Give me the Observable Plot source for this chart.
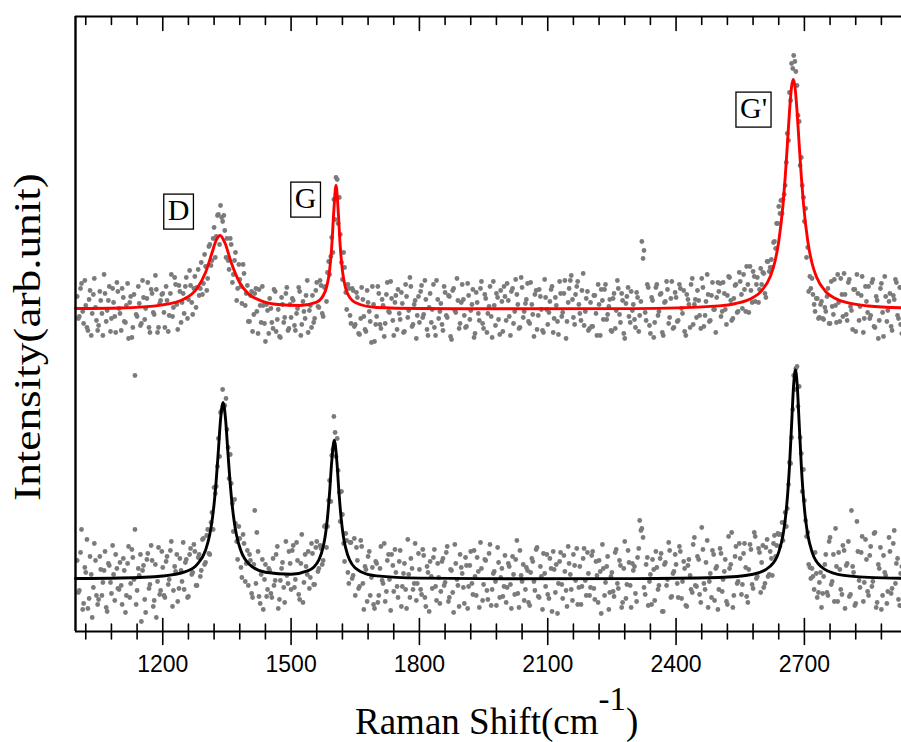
<!DOCTYPE html>
<html>
<head>
<meta charset="utf-8">
<script src="https://cdn.jsdelivr.net/npm/d3@7"></script>
<script src="https://cdn.jsdelivr.net/npm/@observablehq/plot@0.6"></script>
<style>
  body { margin: 0; background: #fff; }
  #wrap { position: relative; width: 901px; height: 742px; overflow: hidden; background: #fff; }
  #xtitle { position: absolute; left: 355px; top: 703px; font-family: "Liberation Serif", serif; font-size: 37px; line-height: 37px; white-space: nowrap; color: #000; }
  #xtitle sup { font-size: 33px; vertical-align: baseline; position: relative; top: -24px; }
  #ytitle { position: absolute; left: 27px; top: 337px; transform: translate(-50%, -50%) rotate(-90deg) scaleX(1.19); font-family: "Liberation Serif", serif; font-size: 38px; line-height: 38px; white-space: nowrap; color: #000; }
</style>
</head>
<body>
<div id="wrap">
  <div id="ytitle">Intensity(arb.unit)</div>
  <div id="xtitle">Raman Shift(cm<sup>-1</sup>)</div>
</div>
<script>
// ---- axis setup ----
const xDomain = [996, 2927];
const yDomain = [0, 615];
const majorTicks = [1200, 1500, 1800, 2100, 2400, 2700];
const minorTicks = [1020, 1080, 1140, 1260, 1320, 1380, 1440, 1560, 1620, 1680, 1740, 1860, 1920, 1980, 2040, 2160, 2220, 2280, 2340, 2460, 2520, 2580, 2640, 2760, 2820, 2880];

// ---- measured spectra (scatter) ----
const sampleX = [
1000,1005,1010,1015,1020,1025,1030,1035,1040,1045,1050,1055,1060,1065,1070,1075,1080,1085,1090,1095,
1100,1105,1110,1115,1120,1125,1130,1135,1140,1145,1150,1155,1160,1165,1170,1175,1180,1185,1190,1195,
1200,1205,1210,1215,1220,1225,1230,1235,1240,1245,1250,1255,1260,1265,1270,1275,1280,1285,1290,1295,
1300,1305,1310,1315,1320,1325,1330,1335,1340,1345,1350,1355,1360,1365,1370,1375,1380,1385,1390,1395,
1400,1405,1410,1415,1420,1425,1430,1435,1440,1445,1450,1455,1460,1465,1470,1475,1480,1485,1490,1495,
1500,1505,1510,1515,1520,1525,1530,1535,1540,1545,1550,1555,1560,1565,1570,1575,1580,1585,1590,1595,
1600,1605,1610,1615,1620,1625,1630,1635,1640,1645,1650,1655,1660,1665,1670,1675,1680,1685,1690,1695,
1700,1705,1710,1715,1720,1725,1730,1735,1740,1745,1750,1755,1760,1765,1770,1775,1780,1785,1790,1795,
1800,1805,1810,1815,1820,1825,1830,1835,1840,1845,1850,1855,1860,1865,1870,1875,1880,1885,1890,1895,
1900,1905,1910,1915,1920,1925,1930,1935,1940,1945,1950,1955,1960,1965,1970,1975,1980,1985,1990,1995,
2000,2005,2010,2015,2020,2025,2030,2035,2040,2045,2050,2055,2060,2065,2070,2075,2080,2085,2090,2095,
2100,2105,2110,2115,2120,2125,2130,2135,2140,2145,2150,2155,2160,2165,2170,2175,2180,2185,2190,2195,
2200,2205,2210,2215,2220,2225,2230,2235,2240,2245,2250,2255,2260,2265,2270,2275,2280,2285,2290,2295,
2300,2305,2310,2315,2320,2325,2330,2335,2340,2345,2350,2355,2360,2365,2370,2375,2380,2385,2390,2395,
2400,2405,2410,2415,2420,2425,2430,2435,2440,2445,2450,2455,2460,2465,2470,2475,2480,2485,2490,2495,
2500,2505,2510,2515,2520,2525,2530,2535,2540,2545,2550,2555,2560,2565,2570,2575,2580,2585,2590,2595,
2600,2605,2610,2615,2620,2625,2630,2635,2640,2645,2650,2655,2660,2665,2670,2675,2680,2685,2690,2695,
2700,2705,2710,2715,2720,2725,2730,2735,2740,2745,2750,2755,2760,2765,2770,2775,2780,2785,2790,2795,
2800,2805,2810,2815,2820,2825,2830,2835,2840,2845,2850,2855,2860,2865,2870,2875,2880,2885,2890,2895,
2900,2905,2910,2915,2920,2925];

// upper (red-fitted) spectrum, two readings per position
const upperData = [
335,315,348,308,326,301,341,318,353,311, 306,331,296,338,321,345,313,329,299,340,
318,343,310,326,293,335,304,256,315,328, 308,334,323,349,299,338,317,342,304,331,
338,304,331,316,357,324,347,302,340,329, 318,354,332,346,317,355,344,336,369,348,
365,353,387,371,404,395,417,426,410,401, 393,362,387,357,379,343,352,328,358,338,
310,336,300,338,320,342,309,326,290,321, 333,309,342,300,322,294,327,314,344,303,
314,331,301,323,340,307,320,336,299,326, 336,313,349,324,346,315,345,359,357,394,
432,454,408,397,352,364,322,343,308,341, 307,334,297,344,315,300,329,310,345,290,
315,338,303,326,308,349,319,333,296,336, 342,312,328,300,335,321,345,307,331,316,
309,346,317,332,296,338,322,304,351,313, 328,301,339,314,335,292,343,319,331,308,
347,316,305,336,321,342,298,329,311,350, 303,333,318,345,294,326,338,312,341,300,
335,348,315,340,308,352,327,304,344,320, 332,310,349,317,337,302,342,322,299,334,
307,330,345,313,326,297,338,319,351,310, 343,356,314,337,350,318,341,306,333,301,
329,305,336,296,327,342,312,347,317,332, 300,338,321,343,309,331,293,335,315,340,
327,304,334,316,390,381,311,344,298,331, 309,347,320,338,296,330,342,314,350,304,
334,311,343,318,300,337,327,347,307,332, 341,316,353,305,330,337,311,349,322,334,
340,315,349,322,336,354,311,333,347,320, 350,323,342,365,319,341,360,330,354,342,
347,358,334,370,364,364,390,408,425,431, 432,446,498,539,568,576,560,516,466,446,
410,374,340,343,337,320,333,314,330,312, 320,343,308,325,352,309,329,353,315,337,
311,352,321,342,300,338,325,355,313,330, 345,316,352,304,331,311,348,295,335,321,
338,301,332,349,313,307];

const upperData2 = [
313,343,320,351,304,332,296,337,324,301, 340,318,357,310,331,300,343,315,349,323,
301,334,309,348,329,294,337,317,345,306, 351,312,333,304,342,319,356,299,328,337,
319,345,300,338,315,354,327,346,309,338, 345,313,361,329,343,324,362,343,337,377,
341,385,366,393,374,416,387,414,416,374, 371,393,349,371,331,367,345,367,326,346,
310,340,317,343,298,326,345,308,327,298, 323,303,340,312,295,334,309,338,301,327,
333,306,318,344,296,330,313,351,321,304, 309,341,325,351,318,344,330,370,375,379,
412,452,434,369,379,339,347,316,343,305, 339,298,313,332,302,341,320,289,327,307,
345,307,332,295,337,320,350,311,329,302, 318,339,299,347,314,354,305,327,293,335,
340,314,351,302,324,309,347,296,332,320, 307,345,316,336,295,341,321,353,303,329,
332,304,348,312,327,294,339,318,343,308, 337,299,325,315,350,306,334,297,330,345,
311,331,296,343,320,337,303,354,314,328, 348,308,327,295,341,316,335,301,352,322,
319,342,299,334,310,350,315,338,293,329, 351,332,307,345,327,311,358,320,340,303,
305,336,318,347,296,331,342,312,325,301, 333,303,351,317,338,298,328,344,309,321,
312,339,300,330,373,319,347,306,334,294, 344,316,337,299,329,350,308,333,303,339,
310,347,323,341,296,332,304,353,327,314, 331,303,344,316,357,310,336,322,299,349,
348,320,338,307,355,331,313,346,319,359, 337,357,320,347,365,329,355,347,329,363,
359,338,370,360,372,389,383,408,418,418, 437,469,491,531,563,570,546,510,474,434,
423,384,355,353,327,333,313,327,313,324, 335,308,350,317,326,357,310,337,358,317,
349,325,302,342,357,311,336,299,345,319, 313,349,305,335,293,343,319,355,310,330,
305,336,352,316,344,298];

// lower (black-fitted) spectrum, two readings per position
const lowerData = [
71,41,102,28,59,23,75,14,88,36, 32,62,49,80,20,66,38,57,77,43,
69,27,61,36,85,48,74,102,41,56, 10,66,19,78,47,71,31,14,84,41,
64,34,75,52,90,41,60,30,73,50, 42,72,35,83,59,80,46,77,61,93,
69,102,77,119,144,145,193,219,242,226, 202,153,148,100,108,72,93,54,88,68,
46,71,34,121,99,35,57,22,67,42, 61,34,46,77,23,51,69,29,56,80,
42,86,52,71,32,97,49,65,80,54, 78,47,90,63,83,71,106,105,151,176,
215,175,161,110,117,70,91,48,89,56, 36,71,45,85,22,62,75,36,64,23,
68,36,85,48,30,71,52,77,40,59, 34,81,45,68,23,57,73,42,88,48,
62,37,76,25,59,70,43,82,31,54, 40,73,49,85,34,61,19,68,46,77,
58,28,66,45,80,37,55,74,24,63, 47,71,32,87,42,60,26,69,54,35,
76,44,65,23,57,72,38,81,50,31, 64,29,59,70,41,84,34,55,78,45,
37,73,20,62,67,48,79,33,60,25, 68,42,77,51,27,65,45,83,36,58,
44,80,32,56,71,18,63,49,75,39, 59,35,82,43,66,29,90,47,69,24,
61,38,74,111,103,44,67,26,57,72, 31,64,46,78,20,69,52,81,35,60,
67,34,80,50,63,25,72,42,87,46, 75,37,104,48,69,24,58,81,31,65,
42,78,52,72,27,63,99,36,85,50, 73,47,88,35,62,82,43,95,55,79,
69,44,84,55,80,56,96,86,97,97, 91,119,123,169,194,256,263,225,194,140,
131,95,67,53,55,79,34,49,24,55, 77,36,94,50,30,65,79,42,86,23,
68,35,121,59,28,80,44,95,49,72, 36,85,50,99,29,63,22,76,56,40,
80,43,101,68,32,58];

const lowerData2 = [
39,79,22,64,92,33,57,44,71,27, 75,36,61,24,68,49,86,31,63,42,
46,73,19,68,34,82,52,27,63,77, 61,32,72,43,86,25,67,50,37,80,
36,70,47,81,25,65,77,43,61,89, 69,34,77,57,87,46,74,55,92,67,
96,78,109,102,138,165,175,221,225,233, 184,177,128,132,90,105,64,97,50,81,
77,38,67,48,80,28,72,52,35,63, 38,73,51,85,32,63,44,90,48,68,
81,44,89,37,68,29,77,57,43,88, 47,84,60,86,67,105,84,131,130,182,
199,193,139,140,88,98,59,89,53,93, 84,43,91,48,65,30,80,54,27,70,
29,63,51,88,40,77,21,66,82,45, 70,25,58,42,92,34,63,48,31,78,
42,82,34,65,20,55,74,45,68,28, 70,46,79,30,62,39,87,52,25,64,
44,74,23,66,48,81,36,60,89,31, 72,41,78,26,58,50,84,34,63,45,
29,68,47,75,37,91,24,56,67,42, 61,26,73,50,82,35,65,22,58,77,
33,63,80,39,18,70,47,76,41,85, 57,31,66,83,44,27,73,51,79,36,
76,43,70,29,60,87,36,65,22,55, 40,79,48,71,24,63,33,81,46,68,
65,30,83,101,94,37,74,50,27,62, 80,42,73,20,67,46,89,34,58,77,
48,85,33,70,26,66,56,39,94,45, 72,29,82,42,91,50,34,77,63,22,
83,40,60,30,95,67,24,75,48,88, 37,78,64,29,87,47,99,53,83,39,
86,48,92,57,73,88,75,98,85,109, 109,105,147,168,222,242,265,245,178,162,
111,99,64,63,42,58,39,59,38,67, 39,90,47,77,103,30,62,37,81,66,
90,37,65,26,110,51,79,30,92,40, 76,45,98,24,67,84,36,59,28,94,
38,88,48,73,26,65];

// ---- fitted curves ----
const upperFitX = [996,1100,1200,1250,1280,1300,1315,1325,1334,1345,1360,1380,1400,1430,1470,1520,1560,1580,1585,1590,1595,1600,1605,1610,1615,1620,1625,1630,1650,1700,1800,2000,2300,2500,2540,2580,2600,2620,2630,2640,2650,2655,2660,2665,2670,2674,2678,2683,2688,2693,2698,2708,2718,2728,2750,2770,2800,2850,2927];
const upperFitY = [323,323.5,326.6,332.5,343,359,378.5,391.3,396,389,369,348.7,337.8,330.7,327,326,329.4,340.4,348,361.2,384.8,421.5,446.3,421.5,384.6,361,347.8,340,329,324,323,322.7,322.9,325.6,328,334,340.7,354.8,368,390,427,453.7,485.7,519,544.6,552,544.6,519,485.7,453.7,427,390,368,354.8,339.8,333.5,328.8,325.5,323.7];

const lowerFitX = [996,1100,1200,1250,1280,1300,1310,1315,1320,1325,1330,1335,1341,1347,1352,1357,1362,1367,1372,1382,1402,1440,1500,1540,1565,1575,1580,1585,1590,1595,1601,1607,1612,1617,1622,1627,1637,1662,1700,1800,2000,2300,2500,2580,2620,2640,2650,2655,2660,2665,2670,2675,2679,2683,2688,2693,2698,2703,2708,2718,2738,2778,2850,2927];
const lowerFitY = [53,53.5,55.5,59.3,66.9,81.2,97.2,110,127.5,151.3,181,211.4,229,211.4,181,151.3,127.5,110,97.2,81.5,67.3,59.2,57.3,60.8,71.7,84.6,96,113.3,138.8,170,191.3,170,138.6,113.3,95.8,84.6,71.4,60,55.6,53.4,52.8,52.9,54,57.2,65.2,79.4,96.6,111.2,132.8,164.2,206.2,247.6,261.5,247.6,206.2,164.2,132.8,111.2,96.6,79.4,65.2,57.2,54.1,53.3];

// ---- peak labels ----
const peakLabels = ["D", "G", "G'"];
const peakLabelX = [1237, 1534, 2581];
const peakLabelY = [421, 433, 523];

// ---- build tables ----
const rows = (ys) => sampleX.map((x, i) => ({x, y: ys[i]}));
const upperPts = rows(upperData), upperPts2 = rows(upperData2);
const lowerPts = rows(lowerData), lowerPts2 = rows(lowerData2);
const upperFit = upperFitX.map((x, i) => ({x, y: upperFitY[i]}));
const lowerFit = lowerFitX.map((x, i) => ({x, y: lowerFitY[i]}));
const labels = peakLabels.map((t, i) => ({t, x: peakLabelX[i], y: peakLabelY[i]}));

const tickShape = { draw(context, l) { context.moveTo(0, 0); context.lineTo(0, -l); } };
const tickStyle = { stroke: "black", strokeWidth: 1.6, shape: tickShape };
const dotStyle = { x: "x", y: "y", r: 2.4, fill: "#7b7b7b", stroke: "none" };

const chart = Plot.plot({
  width: 901,
  height: 742,
  marginLeft: 75,
  marginRight: 0,
  marginTop: 16,
  marginBottom: 111,
  x: { domain: xDomain, axis: null },
  y: { domain: yDomain, axis: null },
  style: { background: "white" },
  marks: [
    Plot.dot(upperPts, dotStyle),
    Plot.dot(upperPts2, { ...dotStyle, dx: 1.2 }),
    Plot.dot(lowerPts, dotStyle),
    Plot.dot(lowerPts2, { ...dotStyle, dx: 1.2 }),
    Plot.line(upperFit, { x: "x", y: "y", stroke: "#ff0000", strokeWidth: 2.9, curve: "monotone-x" }),
    Plot.line(lowerFit, { x: "x", y: "y", stroke: "#000000", strokeWidth: 2.9, curve: "monotone-x" }),
    Plot.ruleX([xDomain[0]], { stroke: "black", strokeWidth: 2.4 }),
    Plot.ruleY([yDomain[0]], { stroke: "black", strokeWidth: 2 }),
    Plot.ruleY([yDomain[1]], { stroke: "black", strokeWidth: 2 }),
    Plot.vector(majorTicks, { x: d => d, y: () => yDomain[0], length: 26, anchor: "middle", ...tickStyle }),
    Plot.vector(minorTicks, { x: d => d, y: () => yDomain[0], length: 15, anchor: "middle", ...tickStyle }),
    Plot.vector(majorTicks, { x: d => d, y: () => yDomain[1], length: 14, anchor: "start", rotate: 180, ...tickStyle }),
    Plot.vector(minorTicks, { x: d => d, y: () => yDomain[1], length: 8, anchor: "start", rotate: 180, ...tickStyle }),
    Plot.axisX({ ticks: majorTicks, tickSize: 0, tickPadding: 24, fontSize: 23, fontFamily: "Liberation Sans, Arial, sans-serif", tickFormat: d => String(d), label: null, fill: "black" }),
    Plot.text(labels, { x: "x", y: "y", text: "t", fontSize: 30, fontFamily: "Liberation Serif, serif", fill: "black", textAnchor: "middle", lineAnchor: "middle" })
  ]
});

const wrap = document.getElementById("wrap");
wrap.insertBefore(chart, wrap.firstChild);
chart.style.position = "absolute";
chart.style.left = "0px";
chart.style.top = "0px";

// boxes around the peak labels
const svgNS = "http://www.w3.org/2000/svg";
[...chart.querySelectorAll("text")].filter(t => peakLabels.includes(t.textContent)).forEach(t => {
  const b = t.getBBox();
  const r = document.createElementNS(svgNS, "rect");
  r.setAttribute("x", b.x - 4);
  r.setAttribute("y", b.y + 1);
  r.setAttribute("width", b.width + 8);
  r.setAttribute("height", b.height + 2);
  r.setAttribute("fill", "none");
  r.setAttribute("stroke", "black");
  r.setAttribute("stroke-width", "1.3");
  const tr = t.getAttribute("transform");
  if (tr) r.setAttribute("transform", tr);
  t.parentNode.insertBefore(r, t);
});
</script>
</body>
</html>
